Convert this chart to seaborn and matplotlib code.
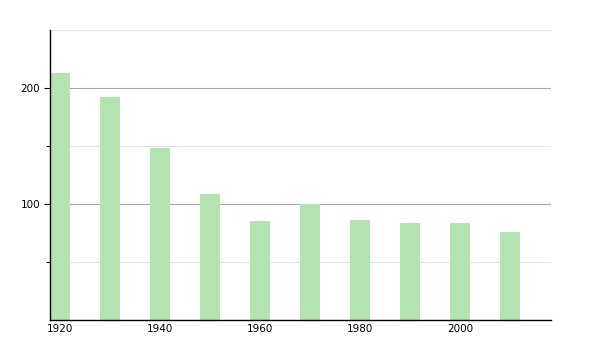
import matplotlib
matplotlib.use("Agg")
import matplotlib.pyplot as plt
import seaborn as sns
import pandas as pd
from matplotlib.ticker import FixedLocator

years = [1920, 1930, 1940, 1950, 1960, 1970, 1980, 1990, 2000, 2010]
values = [213, 192, 148, 109, 85, 100, 86, 84, 84, 76]
xticks = [1920, 1940, 1960, 1980, 2000]
yticks = [100, 200]

df = pd.DataFrame({"year": years, "value": values})

sns.set_style("white")
fig = plt.figure(figsize=(6, 3.5), dpi=100)
ax = fig.add_axes([50/600, 30/350, 501/600, 290/350])

for y in [50, 150, 250]:
    ax.axhline(y, color="#e3e3e3", lw=0.8, zorder=0)
for y in yticks:
    ax.axhline(y, color="#a8a8a8", lw=0.8, zorder=0)

sns.barplot(data=df, x="year", y="value", native_scale=True, width=0.4,
            color="#b3e3b0", saturation=1, ax=ax, zorder=2, edgecolor="none")

ax.set_xlim(1918, 2018.2)
ax.set_ylim(0, 250)
ax.set_xticks(xticks)
ax.set_xticklabels([str(t) for t in xticks], fontsize=7.5, color="black")
ax.set_yticks(yticks)
ax.set_yticklabels([str(t) for t in yticks], fontsize=7.5, color="black")
ax.yaxis.set_minor_locator(FixedLocator([50, 150]))
ax.tick_params(axis="y", which="major", length=4, width=0.8, direction="out", left=True, pad=3, color="black")
ax.tick_params(axis="y", which="minor", length=3, width=0.8, direction="out", left=True, color="black")
ax.tick_params(axis="x", length=0, pad=3)
ax.set_xlabel("")
ax.set_ylabel("")
for s in ["top", "right"]:
    ax.spines[s].set_visible(False)
for s in ["left", "bottom"]:
    ax.spines[s].set_color("black")
    ax.spines[s].set_linewidth(1)

fig.savefig("out.png", dpi=100)
